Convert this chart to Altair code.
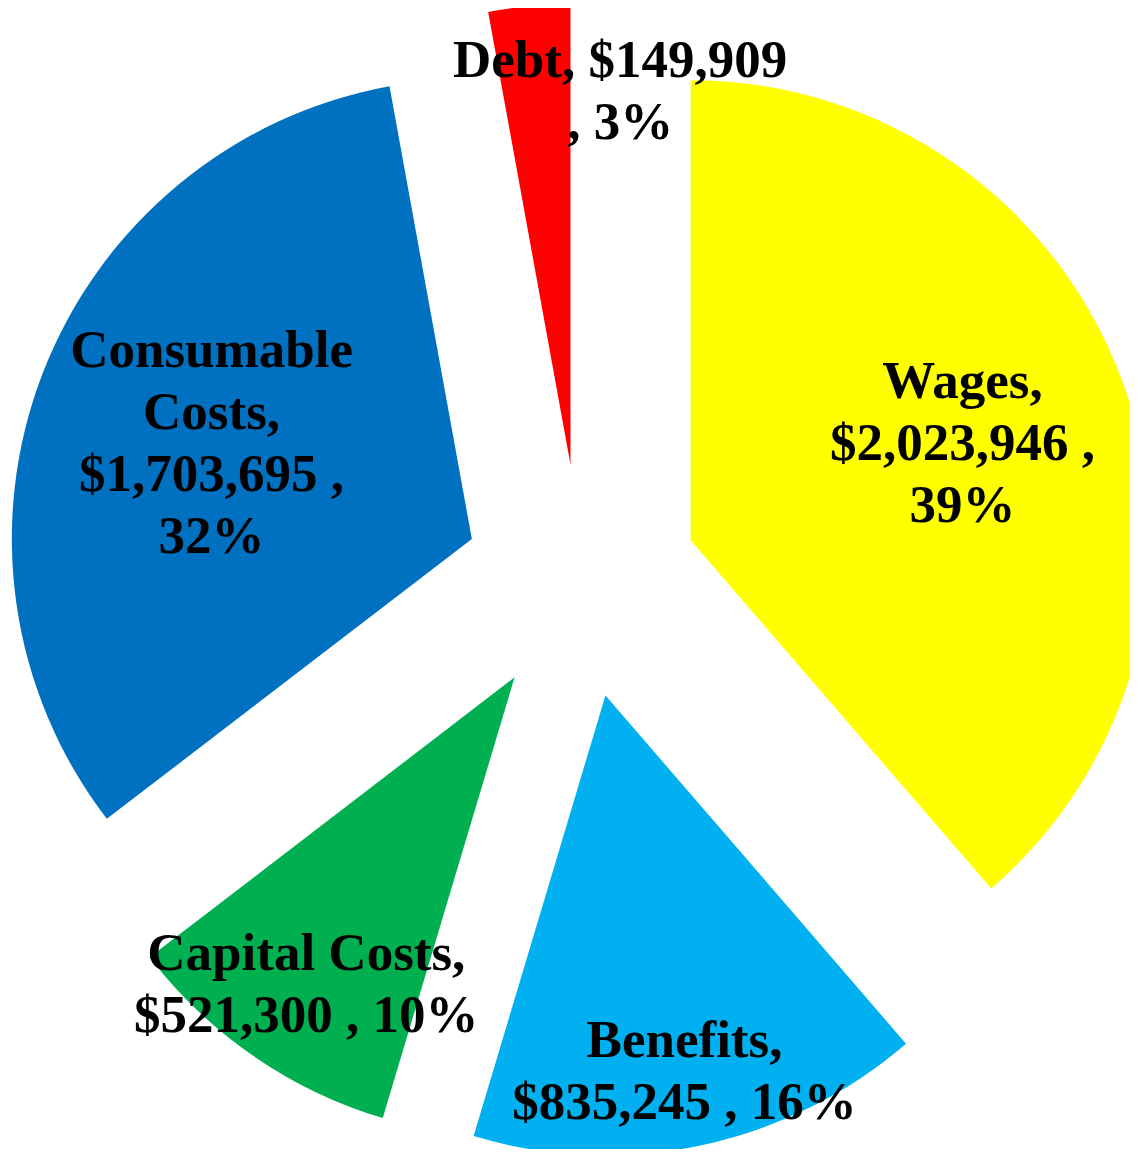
import altair as alt
import pandas as pd

# ---- data ----
categories = ["Wages", "Benefits", "Capital Costs", "Consumable Costs", "Debt"]
values = [2023946, 835245, 521300, 1703695, 149909]
percents = ["39%", "16%", "10%", "32%", "3%"]
labels = [
    "Wages,\n$2,023,946 ,\n39%",
    "Benefits,\n$835,245 , 16%",
    "Capital Costs,\n$521,300 , 10%",
    "Consumable\nCosts,\n$1,703,695 ,\n32%",
    "Debt, $149,909\n, 3%",
]
colors = ["#FFFF00", "#00B0F0", "#00B050", "#0070C0", "#FF0000"]

# ---- layout (not data) ----
W, H = 1122, 1141
CX, CY = 573, 573      # pie centre in the view
R = 460                # pie radius
EXPLODE = 117          # distance every slice is pulled out
LINE_H = 62
label_r = [290, 378, 367, 279, 371]
label_dx = [0, 0, 0, 0, 83]
label_dy = [5, 7, 6, 6, -3]

df = pd.DataFrame({
    "category": categories,
    "value": values,
    "label": labels,
    "order": list(range(len(categories))),
    "lr": label_r,
    "ldx": label_dx,
    "ldy": label_dy,
})

base = alt.Chart(df).transform_joinaggregate(
    total="sum(value)"
).transform_window(
    cum="sum(value)", sort=[alt.SortField("order")], frame=[None, 0]
).transform_calculate(
    t1="2*PI*datum.cum/datum.total",
    t0="2*PI*(datum.cum-datum.value)/datum.total",
).transform_calculate(
    mid="(datum.t0+datum.t1)/2",
    nlines="split(datum.label, '\\n').length",
).transform_calculate(
    cx=f"{CX}+{EXPLODE}*sin(datum.mid)",
    cy=f"{CY}-{EXPLODE}*cos(datum.mid)",
).transform_calculate(
    lx="datum.cx+datum.lr*sin(datum.mid)+datum.ldx",
    ly=f"datum.cy-datum.lr*cos(datum.mid)-(datum.nlines-1)/2*{LINE_H}+datum.ldy",
)

color_scale = alt.Scale(domain=categories, range=colors)

arcs = base.mark_arc(outerRadius=R, innerRadius=0).encode(
    theta=alt.Theta("t0:Q", scale=None),
    theta2="t1:Q",
    x=alt.X("cx:Q", scale=None, stack=False),
    y=alt.Y("cy:Q", scale=None, stack=False),
    color=alt.Color("category:N", scale=color_scale, legend=None),
)

text = base.mark_text(
    font="Liberation Serif",
    fontWeight="bold",
    fontSize=53,
    lineHeight=LINE_H,
    lineBreak="\n",
    align="center",
    baseline="middle",
    color="black",
).encode(
    x=alt.X("lx:Q", scale=None, stack=False),
    y=alt.Y("ly:Q", scale=None, stack=False),
    text="label:N",
)

chart = alt.layer(arcs, text).properties(
    width=W, height=H, padding=0, autosize="none"
).configure_view(stroke=None)

chart.save("out.html", embed_options={"renderer": "svg", "actions": False})
